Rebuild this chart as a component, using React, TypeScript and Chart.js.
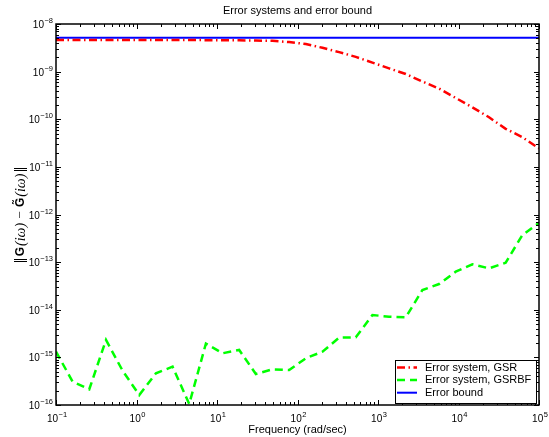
import React, { useEffect, useRef } from "react";
import { Chart, registerables } from "chart.js";

Chart.register(...registerables);

// ---------------- data ----------------
const frequencies = [
  0.1, 0.161, 0.259, 0.418, 0.672, 1.082, 1.743, 2.807, 4.52, 7.279,
  11.72, 18.87, 30.39, 48.94, 78.8, 126.9, 204.3, 329.0, 529.8, 853.2,
  1374, 2212, 3562, 5736, 9237, 14874, 23950, 38566, 62102, 100000,
];

const errorGSR = [
  4.6e-9, 4.6e-9, 4.6e-9, 4.6e-9, 4.6e-9, 4.6e-9, 4.6e-9, 4.6e-9, 4.6e-9, 4.58e-9,
  4.56e-9, 4.54e-9, 4.5e-9, 4.43e-9, 4.17e-9, 3.8e-9, 3.16e-9, 2.57e-9, 2.04e-9, 1.55e-9,
  1.17e-9, 8.9e-10, 6.2e-10, 4.4e-10, 2.8e-10, 1.78e-10, 1.1e-10, 6.3e-11, 4.2e-11, 2.45e-11,
];

const errorGSRBF = [
  1.32e-15, 3.08e-16, 2.14e-16, 2.32e-15, 5.25e-16, 1.62e-16, 4.63e-16, 6.37e-16, 1.05e-16, 1.95e-15,
  1.22e-15, 1.43e-15, 4.48e-16, 5.62e-16, 5.43e-16, 9.57e-16, 1.32e-15, 2.59e-15, 2.64e-15, 7.76e-15,
  7.14e-15, 6.94e-15, 2.6e-14, 3.47e-14, 6.3e-14, 9.0e-14, 7.4e-14, 9.7e-14, 3.7e-13, 6.7e-13,
];

const boundFrequencies = [0.1, 100000];
const errorBound = [5.15e-9, 5.15e-9];

const tickBase = "10";
const xTickValues = [0.1, 1, 10, 100, 1000, 10000, 100000];
const xTickExponents = ["−1", "0", "1", "2", "3", "4", "5"];
const yTickValues = [1e-16, 1e-15, 1e-14, 1e-13, 1e-12, 1e-11, 1e-10, 1e-9, 1e-8];
const yTickExponents = ["−16", "−15", "−14", "−13", "−12", "−11", "−10", "−9", "−8"];

const chartTitle = "Error systems and error bound";
const xAxisTitle = "Frequency (rad/sec)";
const seriesLabels = ["Error system, GSR", "Error system, GSRBF", "Error bound"];

const FONT = '"Liberation Sans", Arial, Helvetica, sans-serif';
const BASE_FONT = `10px ${FONT}`;
const EXP_FONT = `7.5px ${FONT}`;

// ---------------- plugins ----------------
const framePlugin = {
  id: "matlabFrame",
  afterDatasetsDraw(chart: any) {
    const { ctx, chartArea, scales } = chart;
    const { left, right, top, bottom } = chartArea;
    const xs = scales.x;
    const ys = scales.y;
    ctx.save();
    ctx.strokeStyle = "#000";
    ctx.lineWidth = 1;
    ctx.beginPath();
    const xTick = (v: number, len: number) => {
      const p = Math.round(xs.getPixelForValue(v)) + 0.5;
      ctx.moveTo(p, bottom);
      ctx.lineTo(p, bottom - len);
      ctx.moveTo(p, top);
      ctx.lineTo(p, top + len);
    };
    const yTick = (v: number, len: number) => {
      const p = Math.round(ys.getPixelForValue(v)) + 0.5;
      ctx.moveTo(left, p);
      ctx.lineTo(left + len, p);
      ctx.moveTo(right, p);
      ctx.lineTo(right - len, p);
    };
    for (let i = 0; i < xTickValues.length; i++) {
      xTick(xTickValues[i], 5);
      if (i < xTickValues.length - 1) {
        for (let m = 2; m <= 9; m++) xTick(xTickValues[i] * m, 3);
      }
    }
    for (let i = 0; i < yTickValues.length; i++) {
      yTick(yTickValues[i], 5);
      if (i < yTickValues.length - 1) {
        for (let m = 2; m <= 9; m++) yTick(yTickValues[i] * m, 3);
      }
    }
    ctx.stroke();
    ctx.lineWidth = 1.5;
    ctx.strokeRect(left, top, right - left, bottom - top);
    ctx.restore();
  },
};

const powerLabelPlugin = {
  id: "powerTickLabels",
  afterDraw(chart: any) {
    const { ctx, chartArea, scales } = chart;
    ctx.save();
    ctx.fillStyle = "#000";
    ctx.textBaseline = "alphabetic";
    ctx.textAlign = "left";
    const draw = (exp: string, x: number, baseY: number) => {
      ctx.font = BASE_FONT;
      ctx.fillText(tickBase, x, baseY);
      const wb = ctx.measureText(tickBase).width;
      ctx.font = EXP_FONT;
      ctx.fillText(exp, x + wb + 0.5, baseY - 5);
    };
    const widthOf = (exp: string) => {
      ctx.font = BASE_FONT;
      const wb = ctx.measureText(tickBase).width;
      ctx.font = EXP_FONT;
      return wb + 0.5 + ctx.measureText(exp).width;
    };
    yTickValues.forEach((v, i) => {
      const py = scales.y.getPixelForValue(v);
      const w = widthOf(yTickExponents[i]);
      draw(yTickExponents[i], chartArea.left - 3 - w, py + 4);
    });
    xTickValues.forEach((v, i) => {
      const px = scales.x.getPixelForValue(v);
      const w = widthOf(xTickExponents[i]);
      draw(xTickExponents[i], px - w / 2 + 1, chartArea.bottom + 16.5);
    });
    ctx.restore();
  },
};

const titlePlugin = {
  id: "centeredTitle",
  afterDraw(chart: any) {
    const { ctx, chartArea } = chart;
    ctx.save();
    ctx.fillStyle = "#000";
    ctx.font = `11px ${FONT}`;
    ctx.textAlign = "center";
    ctx.textBaseline = "middle";
    ctx.fillText(chartTitle, (chartArea.left + chartArea.right) / 2, 11);
    ctx.restore();
  },
};

const yLabelPlugin = {
  id: "yMathLabel",
  afterDraw(chart: any) {
    const { ctx, chartArea } = chart;
    const segs = [
      { t: "‖", f: '13px "DejaVu Serif", serif' },
      { t: "G", f: `bold 12px ${FONT}` },
      { t: "(iω)", f: 'italic 14px "Liberation Serif", serif' },
      { t: " − ", f: '13px "Liberation Serif", serif' },
      { t: "G̃", f: `bold 12px ${FONT}` },
      { t: "(iω)", f: 'italic 14px "Liberation Serif", serif' },
      { t: "‖", f: '13px "DejaVu Serif", serif' },
    ];
    ctx.save();
    ctx.fillStyle = "#000";
    ctx.textBaseline = "middle";
    ctx.textAlign = "left";
    let total = 0;
    const widths = segs.map((s) => {
      ctx.font = s.f;
      const w = ctx.measureText(s.t).width + 1;
      total += w;
      return w;
    });
    ctx.translate(21, (chartArea.top + chartArea.bottom) / 2);
    ctx.rotate(-Math.PI / 2);
    let x = -total / 2;
    segs.forEach((s, i) => {
      ctx.font = s.f;
      ctx.fillText(s.t, x, 0);
      x += widths[i];
    });
    ctx.restore();
  },
};

const legendPlugin = {
  id: "boxLegend",
  afterDraw(chart: any) {
    const { ctx, chartArea } = chart;
    const bx = chartArea.right - 144;
    const by = chartArea.bottom - 45;
    const bw = 141;
    const bh = 43;
    ctx.save();
    ctx.fillStyle = "#fff";
    ctx.fillRect(bx, by, bw, bh);
    ctx.strokeStyle = "#000";
    ctx.lineWidth = 1;
    ctx.strokeRect(bx + 0.5, by + 0.5, bw, bh);
    chart.data.datasets.forEach((ds: any, i: number) => {
      const yy = by + 7.5 + i * 12.6;
      ctx.beginPath();
      ctx.strokeStyle = ds.borderColor;
      ctx.lineWidth = ds.borderWidth;
      ctx.setLineDash(ds.borderDash || []);
      ctx.moveTo(bx + 2, yy);
      ctx.lineTo(bx + 22, yy);
      ctx.stroke();
      ctx.setLineDash([]);
      ctx.fillStyle = "#000";
      ctx.font = `11px ${FONT}`;
      ctx.textBaseline = "middle";
      ctx.textAlign = "left";
      ctx.fillText(ds.label, bx + 30, yy);
    });
    ctx.restore();
  },
};

// ---------------- component ----------------
export default function App() {
  const canvasRef = useRef<HTMLCanvasElement | null>(null);

  useEffect(() => {
    document.body.style.margin = "0";
    const canvas = canvasRef.current;
    if (!canvas) return;
    const chart = new Chart(canvas, {
      type: "line",
      data: {
        datasets: [
          {
            label: seriesLabels[0],
            data: frequencies.map((f, i) => ({ x: f, y: errorGSR[i] })),
            borderColor: "#ff0000",
            borderWidth: 2.5,
            borderDash: [8, 3.5, 1.5, 3.5],
            pointRadius: 0,
            fill: false,
            tension: 0,
          },
          {
            label: seriesLabels[1],
            data: frequencies.map((f, i) => ({ x: f, y: errorGSRBF[i] })),
            borderColor: "#00ff00",
            borderWidth: 2.5,
            borderDash: [8, 5],
            pointRadius: 0,
            fill: false,
            tension: 0,
          },
          {
            label: seriesLabels[2],
            data: boundFrequencies.map((f, i) => ({ x: f, y: errorBound[i] })),
            borderColor: "#0000ff",
            borderWidth: 2,
            pointRadius: 0,
            fill: false,
            tension: 0,
          },
        ],
      },
      options: {
        responsive: false,
        animation: false,
        devicePixelRatio: 1,
        layout: { padding: { top: 24, right: 10, left: 0, bottom: 0 } },
        plugins: {
          legend: { display: false },
          title: { display: false },
          tooltip: { enabled: false },
        },
        scales: {
          x: {
            type: "logarithmic",
            position: "bottom",
            min: 0.1,
            max: 100000,
            grid: { display: false, drawTicks: false },
            border: { display: false },
            afterBuildTicks: (s: any) => {
              s.ticks = xTickValues.map((v) => ({ value: v }));
            },
            afterFit: (s: any) => {
              s.height = 32;
            },
            ticks: { display: false },
            title: {
              display: true,
              text: xAxisTitle,
              color: "#000",
              font: { family: FONT, size: 11 },
              padding: { top: 0, bottom: 0 },
            },
          },
          y: {
            type: "logarithmic",
            min: 1e-16,
            max: 1e-8,
            grid: { display: false, drawTicks: false },
            border: { display: false },
            afterBuildTicks: (s: any) => {
              s.ticks = yTickValues.map((v) => ({ value: v }));
            },
            afterFit: (s: any) => {
              s.width = 56;
            },
            ticks: { display: false },
          },
        },
      } as any,
      plugins: [framePlugin, powerLabelPlugin, titlePlugin, yLabelPlugin, legendPlugin],
    });
    return () => chart.destroy();
  }, []);

  return (
    <canvas
      ref={canvasRef}
      width={549}
      height={437}
      style={{ display: "block", width: 549, height: 437 }}
    />
  );
}
